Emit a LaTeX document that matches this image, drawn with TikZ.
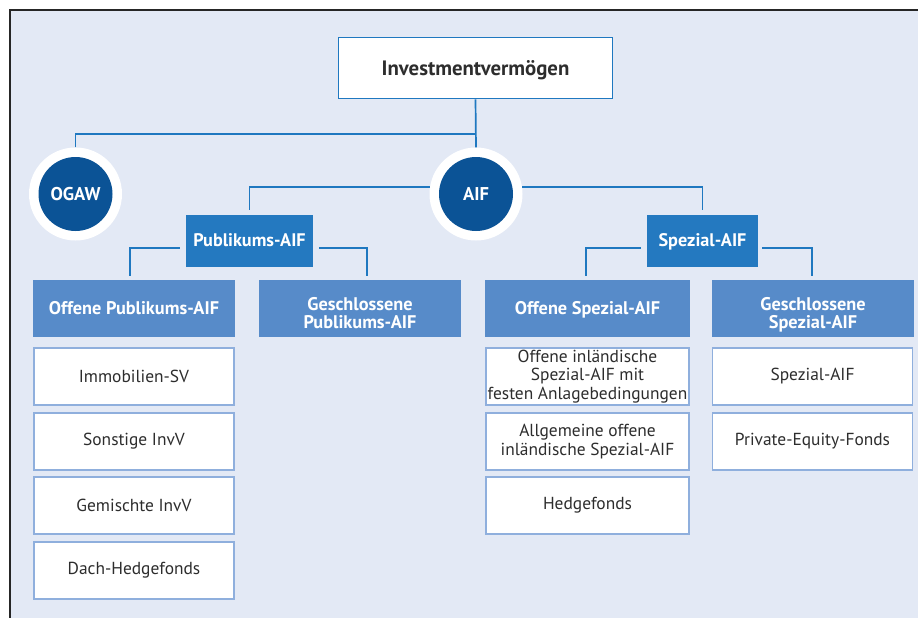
\documentclass[tikz,border=0pt]{standalone}
\usepackage{fontspec}
\setmainfont{PT Sans}
\definecolor{framebg}{RGB}{227,233,245}
\definecolor{linkblue}{RGB}{31,120,192}
\definecolor{darkblue}{RGB}{11,83,150}
\definecolor{midblue}{RGB}{36,121,192}
\definecolor{paleblue}{RGB}{87,139,201}
\definecolor{edgeblue}{RGB}{143,175,221}
\definecolor{textgrey}{RGB}{45,45,45}
\begin{document}
\begin{tikzpicture}[x=1pt,y=-1pt,
    conn/.style={draw=linkblue, line width=1.7pt},
    rootbox/.style={draw=linkblue, line width=1.6pt, fill=white, minimum width=274pt,
      minimum height=61pt, text=textgrey, text depth=0pt,
      font=\fontsize{20.8}{24}\selectfont\bfseries},
    ring/.style={circle, fill=white, minimum size=93pt, inner sep=0pt},
    disc/.style={circle, fill=darkblue, minimum size=74pt, inner sep=0pt, text=white,
      font=\fontsize{18.5}{20}\selectfont\bfseries},
    groupbox/.style={fill=midblue, minimum height=52pt, text=white, text height=1em,
      text depth=0pt, font=\fontsize{18.2}{20}\selectfont\bfseries},
    classbox/.style={fill=paleblue, minimum width=202pt, minimum height=57pt, text=white,
      align=center, text height=1.16em, text depth=0pt,
      font=\fontsize{18.3}{18}\selectfont\bfseries},
    twoline/.style={text height=39.2pt},
    leafbox/.style={draw=edgeblue, line width=1.8pt, fill=white, minimum width=200pt,
      minimum height=57pt, text=textgrey, align=center, inner sep=1pt,
      font=\fontsize{17.4}{18.5}\selectfont}]
  \useasboundingbox (0,0) rectangle (918,618);
  % frame
  \fill[framebg] (10,10) rectangle (918,618);
  \draw[black!85, line width=1.1pt] (10,618) -- (10,10) -- (918,10);

  % top levels
  \node[rootbox] (root) at (475.5,68) {Investmentvermögen};
  \node[ring] (ogawring) at (75.5,194) {};
  \node[disc] (ogaw) at (ogawring) {OGAW};
  \node[ring] (aifring) at (476,194) {};
  \node[disc] (aif) at (aifring) {AIF};
  \coordinate (split) at (476,134);
  \draw[conn] (root.south) -- (aifring.north);
  \draw[conn] (ogawring.north) |- (split);

  \node[groupbox, minimum width=127pt] (pub) at (249.5,241) {Publikums-AIF};
  \node[groupbox, minimum width=111pt] (spez) at (702.5,241) {Spezial-AIF};
  \draw[conn, shorten >=5pt] (aifring.171) -| (pub.north);
  \draw[conn, shorten >=5pt] (aifring.9) -| (spez.north);

  % third level
  \node[classbox] (opub) at (134,308.5) {Offene Publikums-AIF};
  \node[classbox, twoline] (gpub) at (360,308.5) {Geschlossene\\Publikums-AIF};
  \node[classbox, minimum width=205pt] (ospez) at (587.5,308.5) {Offene Spezial-AIF};
  \node[classbox, twoline] (gspez) at (813,308.5) {Geschlossene\\Spezial-AIF};
  \draw[conn, shorten <=6pt, shorten >=4pt] ([yshift=-7pt]pub.west) -| ([xshift=-4pt]opub.north);
  \draw[conn, shorten <=6pt, shorten >=4pt] ([yshift=-7pt]pub.east) -| ([xshift=7pt]gpub.north);
  \draw[conn, shorten <=6pt, shorten >=4pt] ([yshift=-7pt]spez.west) -| ([xshift=-1.5pt]ospez.north);
  \draw[conn, shorten <=4pt, shorten >=4pt] ([yshift=-7pt]spez.east) -| ([xshift=-1pt]gspez.north);

  % leaves
  \node[leafbox] (immo) at (134,376.5) {Immobilien-SV};
  \node[leafbox] (sonst) at (134,441.5) {Sonstige InvV};
  \node[leafbox] (gemi) at (134,505.5) {Gemischte InvV};
  \node[leafbox] (dach) at (134,570.5) {Dach-Hedgefonds};
  \node[leafbox, minimum width=203pt] (oinl) at (587.5,376.5) {Offene inländische\\Spezial-AIF mit\\festen Anlagebedingungen};
  \node[leafbox, minimum width=203pt] (allg) at (587.5,441.5) {Allgemeine offene\\inländische Spezial-AIF};
  \node[leafbox, minimum width=203pt] (hedge) at (587.5,505.5) {Hedgefonds};
  \node[leafbox] (sAIF) at (812.5,376.5) {Spezial-AIF};
  \node[leafbox] (pe) at (812.5,441.5) {Private-Equity-Fonds};
\end{tikzpicture}
\end{document}
